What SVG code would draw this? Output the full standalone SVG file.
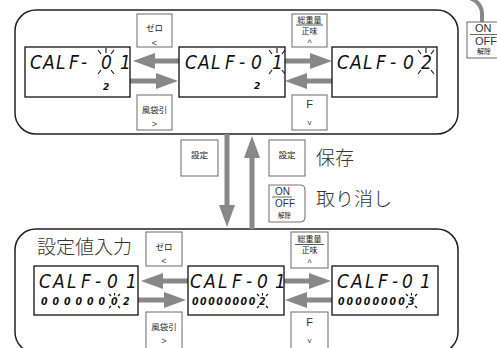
<svg xmlns="http://www.w3.org/2000/svg" xmlns:xlink="http://www.w3.org/1999/xlink" width="497" height="348" viewBox="0 0 497 348">
<style>
.frame{fill:none;stroke:#222;stroke-width:1.5}
.lcd{fill:#fff;stroke:#111;stroke-width:1.3}
.btn{fill:#fff;stroke:#777;stroke-width:1.1}
.jp{font-family:"Noto Sans CJK JP","Noto Sans CJK SC",sans-serif;fill:#222}
.sm{font-size:8.5px;text-anchor:middle}
.big{font-size:19px;font-weight:300;fill:#333}
.sym{font-family:"Liberation Sans",sans-serif;font-size:9px;fill:#444;text-anchor:middle}
.lat{font-family:"Liberation Sans",sans-serif;fill:#333}
.seg{font-family:"DejaVu Sans",sans-serif;font-stretch:condensed;font-style:italic;font-size:19px;fill:#111}
.seg2{font-family:"DejaVu Sans",sans-serif;font-stretch:condensed;font-style:italic;font-weight:bold;font-size:10.5px;fill:#111}
.sub{font-family:"DejaVu Sans",sans-serif;font-style:italic;font-weight:bold;font-size:9px;fill:#111}
.ray{fill:none;stroke:#111;stroke-width:1.1}
.arr{fill:none;stroke:#888;stroke-width:5}
</style>
<defs>
<marker id="ah" viewBox="0 0 22 16" refX="0" refY="8" markerWidth="22" markerHeight="16" markerUnits="userSpaceOnUse" orient="auto">
<path d="M0,0 L22,8 L0,16 Z" fill="#888"/>
</marker>
<g id="blink" class="ray">
<path d="M-3,-5 L0,-1 M5,-7 L5,-2 M13,-5 L10,-1 M-3,19 L0,15 M13,19 L10,15"/>
</g>
<g id="blinks" class="ray">
<path d="M-2,-3 L0,-1 M3.5,-4 L3.5,-1.5 M9,-3 L7,-1 M-2,11 L0,9 M9,11 L7,9"/>
</g>
</defs>

<!-- containers -->
<rect class="frame" x="15" y="10" width="443" height="124" rx="21"/>
<rect class="frame" x="15" y="229" width="443" height="124" rx="21"/>

<!-- connectors -->
<g id="connectors">
<line class="arr" x1="179" y1="61" x2="155" y2="61" marker-end="url(#ah)"/>
<line class="arr" x1="130" y1="81" x2="156" y2="81" marker-end="url(#ah)"/>
<line class="arr" x1="285" y1="61" x2="310" y2="61" marker-end="url(#ah)"/>
<line class="arr" x1="332" y1="81" x2="307" y2="81" marker-end="url(#ah)"/>
<line class="arr" x1="188" y1="281" x2="163" y2="281" marker-end="url(#ah)"/>
<line class="arr" x1="138" y1="300" x2="164" y2="300" marker-end="url(#ah)"/>
<line class="arr" x1="284" y1="281" x2="309" y2="281" marker-end="url(#ah)"/>
<line class="arr" x1="332" y1="300" x2="307" y2="300" marker-end="url(#ah)"/>
<line class="arr" x1="227" y1="134" x2="227" y2="205" marker-end="url(#ah)"/>
<line class="arr" x1="252" y1="229" x2="252" y2="158" marker-end="url(#ah)"/>
<path d="M470,-2 Q482,3 482,14 L482,22" fill="none" stroke="#888" stroke-width="4"/>
</g>

<!-- top row -->
<g id="disp-t1">
<rect class="lcd" x="25" y="47" width="105" height="50"/>
<text class="seg" y="69" x="30 43 56 69 81 101 120">CALF-01</text>
<use xlink:href="#blink" x="101" y="55"/>
<text class="sub" x="103" y="90">2</text>
</g>
<g id="disp-t2">
<rect class="lcd" x="179" y="47" width="106" height="50"/>
<text class="seg" y="69" x="185 198 211 225 239 251 272">CALF-01</text>
<use xlink:href="#blink" x="272" y="55"/>
<text class="sub" x="254" y="89">2</text>
</g>
<g id="disp-t3">
<rect class="lcd" x="332" y="47" width="105" height="50"/>
<text class="seg" y="69" x="337 350 363 376 390 403 421">CALF-02</text>
<use xlink:href="#blink" x="421" y="55"/>
</g>

<g id="btn-zero-t">
<rect class="btn" x="137" y="14" width="35" height="33"/>
<text class="jp sm" x="154.5" y="31">ゼロ</text>
<text class="sym" x="154.5" y="46">&lt;</text>
</g>
<g id="btn-tare-t">
<rect class="btn" x="137" y="95" width="35" height="35"/>
<text class="jp sm" x="154.5" y="113">風袋引</text>
<text class="sym" x="154.5" y="127">&gt;</text>
</g>
<g id="btn-gross-t">
<rect class="btn" x="292" y="14" width="35" height="33"/>
<text class="jp sm" x="309.5" y="23" style="font-size:8px">総重量</text>
<line x1="296" y1="25" x2="323" y2="25" stroke="#333" stroke-width="0.8"/>
<text class="jp sm" x="309.5" y="34" style="font-size:8px">正味</text>
<text class="sym" x="309.5" y="46">^</text>
</g>
<g id="btn-f-t">
<rect class="btn" x="292" y="95" width="35" height="35"/>
<text class="lat" x="309.5" y="108" style="font-size:11px;text-anchor:middle">F</text>
<text class="sym" x="309.5" y="125" style="font-size:8px">v</text>
</g>

<g id="btn-onoff-corner">
<rect x="467" y="22" width="40" height="36" fill="#fff" stroke="#777" stroke-width="1.1"/>
<text class="lat" x="475" y="32" style="font-size:11px">ON</text>
<line x1="470" y1="34.5" x2="497" y2="34.5" stroke="#444" stroke-width="0.8"/>
<text class="lat" x="475" y="45" style="font-size:11px">OFF</text>
<text class="jp" x="477" y="54" style="font-size:7px">解除</text>
</g>

<!-- middle -->
<g id="btn-set-l">
<rect class="btn" x="181" y="140" width="37" height="36"/>
<text class="jp sm" x="199.5" y="158">設定</text>
</g>
<g id="btn-set-r">
<rect class="btn" x="269" y="140" width="36" height="36"/>
<text class="jp sm" x="287" y="158">設定</text>
</g>
<text class="jp big" x="316" y="165">保存</text>
<g id="btn-onoff-mid">
<path d="M269,185 L300,185 Q305,185 305,190 L305,217 Q305,222 300,222 L269,222 Z" fill="#fff" stroke="#777" stroke-width="1.1"/>
<text class="lat" x="275" y="195" style="font-size:10px">ON</text>
<line x1="272" y1="197" x2="292" y2="197" stroke="#444" stroke-width="0.8"/>
<text class="lat" x="275" y="207" style="font-size:10px">OFF</text>
<text class="jp" x="278" y="218" style="font-size:6.5px">解除</text>
</g>
<text class="jp big" x="316" y="206">取り消し</text>

<!-- bottom row -->
<text class="jp big" x="37" y="254">設定値入力</text>
<g id="disp-b1">
<rect class="lcd" x="34" y="266" width="104" height="49"/>
<text class="seg" y="288" x="39 53 67 81 95 107 126">CALF-01</text>
<text class="seg2" y="305" x="41 52.5 64 75.5 87 98.5 111 123">00000002</text>
<use xlink:href="#blinks" x="111" y="297"/>
</g>
<g id="disp-b2">
<rect class="lcd" x="188" y="266" width="96" height="49"/>
<text class="seg" y="288" x="190 204 218 232 246 257 275">CALF-01</text>
<text class="seg2" y="305" x="192 200.1 208.2 216.3 224.4 232.5 240.6 248.7 259">000000002</text>
<use xlink:href="#blinks" x="259" y="297"/>
</g>
<g id="disp-b3">
<rect class="lcd" x="332" y="266" width="106" height="49"/>
<text class="seg" y="288" x="337 351 365 378 392 402 420">CALF-01</text>
<text class="seg2" y="305" x="338 346.6 355.2 363.8 372.4 381 389.6 398.2 408">000000003</text>
<use xlink:href="#blinks" x="408" y="297"/>
</g>

<g id="btn-zero-b">
<rect class="btn" x="146" y="232" width="36" height="34"/>
<text class="jp sm" x="164" y="250">ゼロ</text>
<text class="sym" x="164" y="264">&lt;</text>
</g>
<g id="btn-tare-b">
<rect class="btn" x="146" y="312" width="36" height="40"/>
<text class="jp sm" x="164" y="330">風袋引</text>
<text class="sym" x="164" y="344">&gt;</text>
</g>
<g id="btn-gross-b">
<rect class="btn" x="291" y="232" width="37" height="36"/>
<text class="jp sm" x="309.5" y="242" style="font-size:8px">総重量</text>
<line x1="295" y1="244.5" x2="324" y2="244.5" stroke="#333" stroke-width="0.8"/>
<text class="jp sm" x="309.5" y="253" style="font-size:8px">正味</text>
<text class="sym" x="309.5" y="266">^</text>
</g>
<g id="btn-f-b">
<rect class="btn" x="291" y="312" width="37" height="40"/>
<text class="lat" x="309.5" y="326" style="font-size:11px;text-anchor:middle">F</text>
<text class="sym" x="309.5" y="343" style="font-size:8px">v</text>
</g>
</svg>
